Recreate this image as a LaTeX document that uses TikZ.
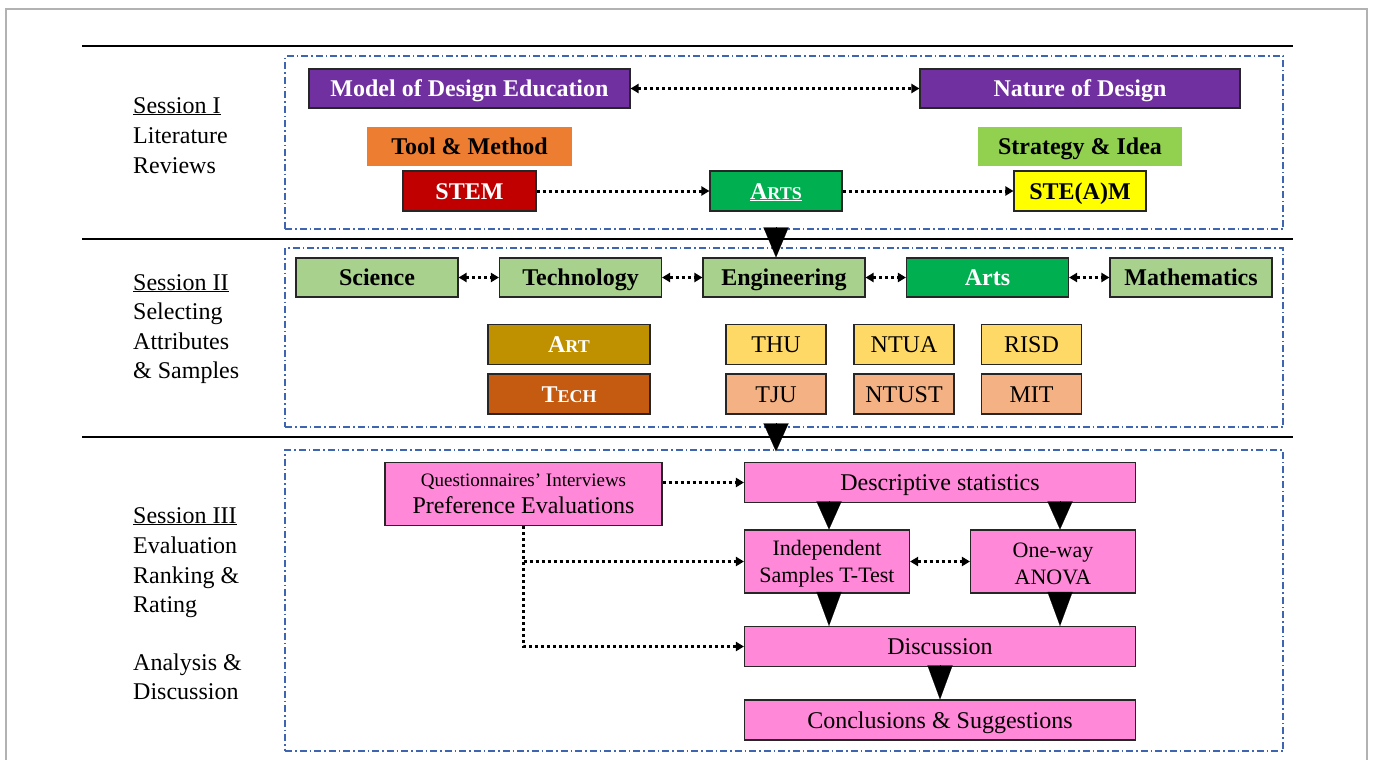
\documentclass[tikz,border=0pt]{standalone}
\usepackage{fontspec}
\setmainfont{Liberation Serif}
\usetikzlibrary{arrows.meta,calc}
\definecolor{cpurple}{HTML}{7030A0}
\definecolor{corange}{HTML}{ED7D31}
\definecolor{clime}{HTML}{92D050}
\definecolor{cred}{HTML}{C00000}
\definecolor{cgreen}{HTML}{00B050}
\definecolor{cyellow}{HTML}{FFFF00}
\definecolor{cpale}{HTML}{A9D18E}
\definecolor{cgold}{HTML}{BF9000}
\definecolor{crust}{HTML}{C55A11}
\definecolor{csand}{HTML}{FFD966}
\definecolor{cpeach}{HTML}{F4B183}
\definecolor{cpink}{HTML}{FF88D8}
\definecolor{cframe}{HTML}{3F65B0}
\tikzset{
  bxm/.style={rectangle, draw=black!85, line width=1.1pt, inner sep=0pt, align=center, text=black, font=\fontsize{24}{28}\selectfont},
  bx/.style={bxm, text height=21pt, text depth=5pt},
  bbx/.style={bx, font=\fontsize{24}{28}\selectfont\bfseries},
  flat/.style={bbx, draw=none},
  dframe/.style={draw=cframe, line width=1.1pt, dash pattern=on 7pt off 3pt on 1.5pt off 3pt, inner sep=0pt},
  lbl/.style={anchor=base west, inner sep=0pt, font=\fontsize{24}{28}\selectfont},
  dotarr/.style={line width=3pt, dash pattern=on 3pt off 3pt, -{Triangle[width=9pt,length=8pt]}},
  ddotarr/.style={line width=3pt, dash pattern=on 3pt off 3pt, {Triangle[width=9pt,length=8pt]}-{Triangle[width=9pt,length=8pt]}},
  bigarr/.style={line width=0.1pt, -{Triangle[width=25pt,length=#1]}}
}
\begin{document}
\begin{tikzpicture}[x=1pt,y=-1pt]
\useasboundingbox (0,0) rectangle (1373,760);
% outer frame and separators
\draw[draw=black!30, line width=1.6pt] (6,800) -- (6,9) -- (1367,9) -- (1367,800);
\draw[line width=2.6pt] (82,46) -- (1293,46);
\draw[line width=2.6pt] (82,239) -- (1293,239);
\draw[line width=2.6pt] (82,437) -- (1293,437);
% dashed frames
\node[dframe, minimum width=998pt, minimum height=173pt] (f1) at (784,142.5) {};
\node[dframe, minimum width=998pt, minimum height=179pt] (f2) at (784,337.5) {};
\node[dframe, minimum width=998pt, minimum height=301pt] (f3) at (784,600.5) {};
% left labels
\node[lbl] (s1a) at (133,113) {\underline{Session I}};
\node[lbl] (s1b) at (133,143) {Literature};
\node[lbl] (s1c) at (133,173) {Reviews};
\node[lbl] (s2a) at (133,290) {\underline{Session II}};
\node[lbl] (s2b) at (133,319) {Selecting};
\node[lbl] (s2c) at (133,349) {Attributes};
\node[lbl] (s2d) at (133,378) {\& Samples};
\node[lbl] (s3a) at (133,523) {\underline{Session III}};
\node[lbl] (s3b) at (133,553) {Evaluation};
\node[lbl] (s3c) at (133,583) {Ranking \&};
\node[lbl] (s3d) at (133,612) {Rating};
\node[lbl] (s3e) at (133,670) {Analysis \&};
\node[lbl] (s3f) at (133,699) {Discussion};
% Session I
\node[bbx, fill=cpurple, text=white, minimum width=321pt, minimum height=39pt] (mde) at (469.5,88.5) {Model of Design Education};
\node[bbx, fill=cpurple, text=white, minimum width=320pt, minimum height=39pt] (nod) at (1080,88.5) {Nature of Design};
\node[flat, fill=corange, minimum width=205pt, minimum height=39pt] (tool) at (469.5,146.5) {Tool \& Method};
\node[flat, fill=clime, minimum width=204pt, minimum height=39pt] (strat) at (1080,146.5) {Strategy \& Idea};
\node[bbx, fill=cred, text=white, minimum width=133pt, minimum height=40pt] (stem) at (469.5,191) {STEM};
\node[bbx, fill=cgreen, text=white, minimum width=132pt, minimum height=40pt] (arts) at (776,191) {\underline{A{\fontsize{18}{20}\selectfont RTS}}};
\node[bbx, fill=cyellow, minimum width=132pt, minimum height=40pt] (steam) at (1080,191) {STE(A)M};
\draw[ddotarr] (mde) -- (nod);
\draw[dotarr] (stem) -- (arts);
\draw[dotarr] (arts) -- (steam);
% Session II
\node[bbx, fill=cpale, minimum width=162pt, minimum height=39pt] (sci) at (377,277.5) {Science};
\node[bbx, fill=cpale, minimum width=162pt, minimum height=39pt] (tech) at (580.5,277.5) {Technology};
\node[bbx, fill=cpale, minimum width=162pt, minimum height=39pt] (eng) at (784,277.5) {Engineering};
\node[bbx, fill=cgreen, text=white, minimum width=162pt, minimum height=39pt] (arts2) at (987.5,277.5) {Arts};
\node[bbx, fill=cpale, minimum width=162pt, minimum height=39pt] (math) at (1191,277.5) {Mathematics};
\draw[ddotarr] (sci) -- (tech);
\draw[ddotarr] (tech) -- (eng);
\draw[ddotarr] (eng) -- (arts2);
\draw[ddotarr] (arts2) -- (math);
\node[bbx, fill=cgold, text=white, minimum width=162pt, minimum height=40pt] (art) at (569,344.5) {A{\fontsize{18}{20}\selectfont RT}};
\node[bbx, fill=crust, text=white, minimum width=162pt, minimum height=40pt] (techb) at (569,394) {T{\fontsize{18}{20}\selectfont ECH}};
\node[bx, fill=csand, minimum width=100pt, minimum height=40pt] (thu) at (776,344.5) {THU};
\node[bx, fill=csand, minimum width=100pt, minimum height=40pt] (ntua) at (904,344.5) {NTUA};
\node[bx, fill=csand, minimum width=100pt, minimum height=40pt] (risd) at (1031.5,344.5) {RISD};
\node[bx, fill=cpeach, minimum width=100pt, minimum height=40pt] (tju) at (776,394) {TJU};
\node[bx, fill=cpeach, minimum width=100pt, minimum height=40pt] (ntust) at (904,394) {NTUST};
\node[bx, fill=cpeach, minimum width=100pt, minimum height=40pt] (mit) at (1031.5,394) {MIT};
% Session III
\node[bxm, fill=cpink, minimum width=277pt, minimum height=63pt] (quest) at (523.5,494) {{\fontsize{19}{22}\selectfont Questionnaires’ Interviews}\\[-1pt]Preference Evaluations};
\node[bx, fill=cpink, minimum width=391pt, minimum height=40pt] (desc) at (940,482.5) {Descriptive statistics};
\node[bxm, fill=cpink, minimum width=165pt, minimum height=63pt, font=\fontsize{22}{27}\selectfont] (indep) at (827,561.5) {\rule{0pt}{20pt}Independent\\Samples T-Test};
\node[bxm, fill=cpink, minimum width=165pt, minimum height=63pt, font=\fontsize{22}{27}\selectfont] (anova) at (1053,561.5) {\rule{0pt}{20pt}One-way\\ANOVA};
\node[bx, fill=cpink, minimum width=391pt, minimum height=40pt] (disc) at (940,646.5) {Discussion};
\node[bx, fill=cpink, minimum width=391pt, minimum height=40pt] (concl) at (940,720) {Conclusions \& Suggestions};
\draw[dotarr] (desc.west -| quest.east) -- (desc.west);
\draw[dotarr] (quest.south) |- (disc.west);
\draw[dotarr] (quest.south |- indep.west) -- (indep.west);
\draw[ddotarr] (indep) -- (anova);
% big triangles
\draw[bigarr=30pt] ($(f1.south -| arts.south)+(0,-1)$) -- (eng.north -| arts.south);
\draw[bigarr=28pt] ($(f2.south -| thu.south)+(0,-2)$) -- ($(f3.north -| thu.south)+(0,2)$);
\draw[bigarr=28pt] ([xshift=2pt]desc.south -| indep.north) -- ([xshift=2pt]indep.north);
\draw[bigarr=28pt] ([xshift=7pt]desc.south -| anova.north) -- ([xshift=7pt]anova.north);
\draw[bigarr=34pt] ([xshift=2pt]indep.south) -- ([xshift=2pt]disc.north -| indep.south);
\draw[bigarr=34pt] ([xshift=7pt]anova.south) -- ([xshift=7pt]disc.north -| anova.south);
\draw[bigarr=34pt] (disc.south) -- (concl.north);
\end{tikzpicture}
\end{document}
